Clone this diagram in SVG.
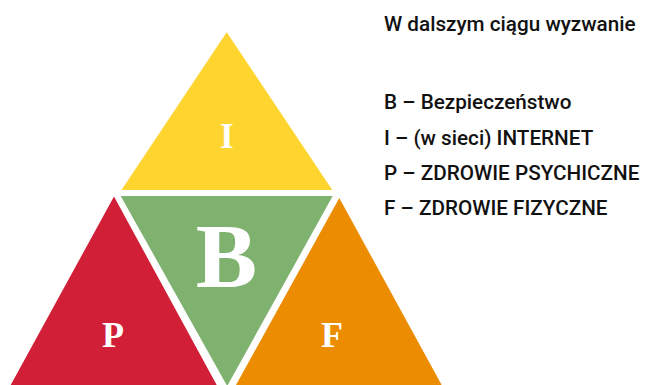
<svg xmlns="http://www.w3.org/2000/svg" width="645" height="385" viewBox="0 0 645 385">
<style>
.lt{font-family:"Liberation Serif","Times New Roman",serif;font-weight:bold;fill:#ffffff;text-anchor:middle}
.tx{font-family:Roboto,"Liberation Sans",sans-serif;font-weight:500;font-size:20.7px;fill:#111111}
</style>
<rect width="645" height="385" fill="#ffffff"/>
<g id="node-I">
<polygon points="226.7,32.3 121.5,190 332.3,190" fill="#fed52f"/>
<text class="lt" x="226.7" y="148" font-size="35">I</text>
</g>
<g id="node-B">
<polygon points="120.7,196 332.7,196 227.2,386" fill="#80b26f"/>
<text class="lt" x="226.5" y="287" font-size="92">B</text>
</g>
<g id="node-P">
<polygon points="114,196.5 10.7,385 216.7,385" fill="#d01f37"/>
<text class="lt" x="113" y="347" font-size="36">P</text>
</g>
<g id="node-F">
<polygon points="339.3,198 236,385 441.7,385" fill="#ec8c00"/>
<text class="lt" x="332" y="347" font-size="36">F</text>
</g>
<g id="legend">
<text class="tx" x="384" y="31">W dalszym ciągu wyzwanie</text>
<text class="tx" x="384" y="109">B – Bezpieczeństwo</text>
<text class="tx" x="384" y="145">I – (w sieci) INTERNET</text>
<text class="tx" x="384" y="180">P – ZDROWIE PSYCHICZNE</text>
<text class="tx" x="384" y="215">F – ZDROWIE FIZYCZNE</text>
</g>
<g id="connectors"></g>
</svg>
